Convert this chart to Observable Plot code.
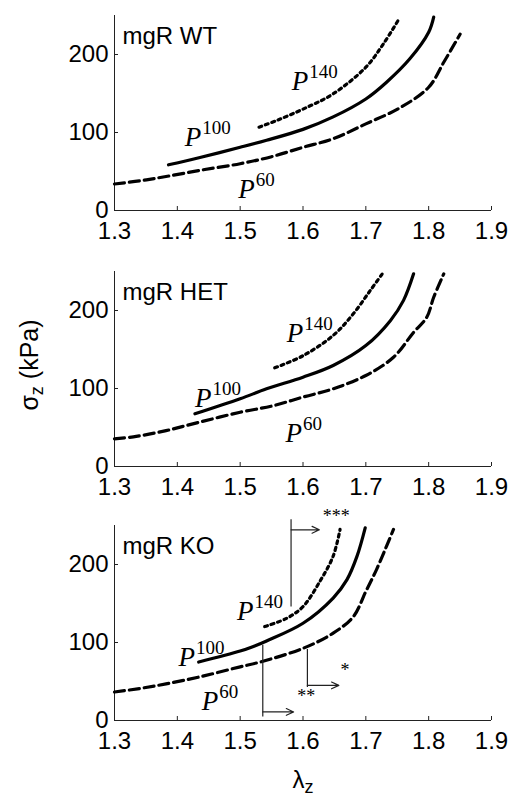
<!DOCTYPE html>
<html><head><meta charset="utf-8">
<script src="https://cdn.jsdelivr.net/npm/d3@7"></script>
<script src="https://cdn.jsdelivr.net/npm/@observablehq/plot@0.6"></script>
<style>
body{margin:0;background:#fff;}
#chart{position:relative;width:511px;height:798px;overflow:hidden;background:#fff;}
</style></head><body><div id="chart"></div>
<script>
// ---- tick labels / categories ----
const xTicks = [1.3, 1.4, 1.5, 1.6, 1.7, 1.8, 1.9];
const yTicks = [0, 100, 200];
const panelTitles = ["mgR WT", "mgR HET", "mgR KO"];
const curveLabels = ["P^140", "P^100", "P^60"];

// ---- WT ----
const wtP60x  = [1.30, 1.34, 1.382, 1.44, 1.50, 1.55, 1.60, 1.648, 1.70, 1.755, 1.80, 1.824, 1.85];
const wtP60y  = [34, 38, 43.6, 52, 60, 69, 81, 92, 111, 132, 158, 190, 226];
const wtP100x = [1.386, 1.436, 1.50, 1.542, 1.60, 1.648, 1.70, 1.733, 1.77, 1.80, 1.808];
const wtP100y = [58.6, 68, 81, 90, 104, 120, 143, 164.5, 194.5, 228.6, 248];
const wtP140x = [1.53, 1.56, 1.60, 1.648, 1.70, 1.728, 1.752];
const wtP140y = [106.8, 116, 130, 149.6, 183.7, 213.7, 244.5];
const wtLabelX = [1.582, 1.412, 1.497];
const wtLabelY = [154, 83, 16];

// ---- HET ----
const hetP60x  = [1.30, 1.33, 1.382, 1.436, 1.50, 1.553, 1.60, 1.648, 1.70, 1.744, 1.776, 1.797, 1.808, 1.824];
const hetP60y  = [35.5, 38, 46, 57, 69.6, 78, 89, 99.6, 116.7, 140, 172, 191.4, 217, 247];
const hetP100x = [1.428, 1.50, 1.542, 1.60, 1.648, 1.70, 1.739, 1.76, 1.776];
const hetP100y = [67.5, 86.8, 99.6, 114.5, 129.5, 155, 187, 213, 247];
const hetP140x = [1.555, 1.60, 1.648, 1.68, 1.707, 1.728];
const hetP140y = [126.5, 142, 168, 195.7, 225.6, 249];
const hetLabelX = [1.574, 1.428, 1.572];
const hetLabelY = [159, 76, 31];

// ---- KO ----
const koP60x  = [1.30, 1.34, 1.382, 1.436, 1.50, 1.532, 1.60, 1.648, 1.68, 1.70, 1.717, 1.733, 1.744];
const koP60y  = [36.5, 41, 47, 56, 68.8, 75, 92.5, 112, 133, 165.5, 193.5, 223.6, 245];
const koP100x = [1.434, 1.50, 1.52, 1.542, 1.60, 1.648, 1.67, 1.686, 1.699];
const koP100y = [75, 89, 94.6, 102, 124.7, 157, 180.6, 210.7, 247];
const koP140x = [1.539, 1.574, 1.60, 1.627, 1.648, 1.659];
const koP140y = [120.4, 131, 146, 178.5, 210.7, 245];
const koLabelX = [1.495, 1.402, 1.439];
const koLabelY = [129, 70, 13];

// ---- KO significance annotations ----
const sigLineX  = [1.536, 1.607, 1.581];   // vertical marker positions
const sigLineY1 = [97, 91.6, 146];         // start (on curve)
const sigLineY2 = [5, 43, 258];            // end
const sigArrowY = [11, 45, 244.5];
const sigArrowX2 = [1.585, 1.657, 1.626];
const sigText  = ["**", "*", "***"];
const sigTextX = [1.605, 1.667, 1.653];
const sigTextY = [31, 64.5, 262];

const zip = (xs, ys) => xs.map((x, i) => ({x, y: ys[i]}));

function panel({title, p60, p100, p140, labels, top, height, marginBottom, extra = []}) {
  const lbl = curveLabels.map((t, i) => ({t, x: labels[0][i], y: labels[1][i]}));
  const svg = Plot.plot({
    width: 511, height,
    marginLeft: 114, marginRight: 20, marginTop: 15, marginBottom,
    x: {domain: [1.3, 1.9]},
    y: {domain: [0, 250]},
    style: {fontFamily: "'Liberation Sans', Arial, sans-serif", fontSize: "24px", color: "#000", background: "transparent", overflow: "visible"},
    marks: [
      Plot.axisX({ticks: xTicks, tickSize: -4, tickPadding: 15, label: null, tickFormat: d => d.toFixed(1), fontSize: 24, stroke: "#222"}),
      Plot.axisY({ticks: yTicks, tickSize: -4, tickPadding: 10, label: null, fontSize: 24, stroke: "#222"}),
      Plot.ruleY([0], {stroke: "#222", strokeWidth: 1}),
      Plot.ruleX([1.3], {stroke: "#222", strokeWidth: 1}),
      Plot.line(zip(...p60), {x: "x", y: "y", stroke: "#000", strokeWidth: 3.2, strokeDasharray: "10,5", curve: "catmull-rom"}),
      Plot.line(zip(...p100), {x: "x", y: "y", stroke: "#000", strokeWidth: 3.2, curve: "catmull-rom"}),
      Plot.line(zip(...p140), {x: "x", y: "y", stroke: "#000", strokeWidth: 3.2, strokeDasharray: "3,3.8", curve: "catmull-rom"}),
      Plot.text(lbl, {x: "x", y: "y", text: "t", textAnchor: "start", lineAnchor: "bottom", fontFamily: "'Liberation Serif', 'Times New Roman', serif", fontSize: 27, fill: "#000"}),
      Plot.text([title], {frameAnchor: "top-left", dx: 8, dy: 28, lineAnchor: "bottom", textAnchor: "start", fontSize: 24, fill: "#000"}),
      ...extra
    ]
  });
  svg.style.position = "absolute";
  svg.style.left = "0px";
  svg.style.top = top + "px";
  return svg;
}

const chart = document.getElementById("chart");

chart.appendChild(panel({
  title: panelTitles[0], p60: [wtP60x, wtP60y], p100: [wtP100x, wtP100y], p140: [wtP140x, wtP140y],
  labels: [wtLabelX, wtLabelY], top: 0, height: 255, marginBottom: 45
}));

chart.appendChild(panel({
  title: panelTitles[1], p60: [hetP60x, hetP60y], p100: [hetP100x, hetP100y], p140: [hetP140x, hetP140y],
  labels: [hetLabelX, hetLabelY], top: 256, height: 255, marginBottom: 45,
  extra: [Plot.text(["σ_z (kPa)"], {frameAnchor: "left", dx: -85, dy: -4, rotate: -90, textAnchor: "middle", fontSize: 25, fill: "#000"})]
}));

const sig = sigLineX.map((x, i) => ({x, y1: sigLineY1[i], y2: sigLineY2[i], ya: sigArrowY[i], x2: sigArrowX2[i]}));
const sigT = sigText.map((t, i) => ({t, x: sigTextX[i], y: sigTextY[i]}));

chart.appendChild(panel({
  title: panelTitles[2], p60: [koP60x, koP60y], p100: [koP100x, koP100y], p140: [koP140x, koP140y],
  labels: [koLabelX, koLabelY], top: 510, height: 288, marginBottom: 78,
  extra: [
    Plot.link(sig, {x1: "x", x2: "x", y1: "y1", y2: "y2", stroke: "#222", strokeWidth: 1.2}),
    Plot.arrow(sig, {x1: "x", x2: "x2", y1: "ya", y2: "ya", stroke: "#222", strokeWidth: 1.2, headLength: 10, headAngle: 50}),
    Plot.text(sigT, {x: "x", y: "y", text: "t", fontFamily: "'Liberation Serif', 'Times New Roman', serif", fontSize: 18, fill: "#000"}),
    Plot.text(["λ_z"], {frameAnchor: "bottom", dy: 67, textAnchor: "middle", lineAnchor: "bottom", fontSize: 24, fill: "#000"})
  ]
}));

// rich text: superscripts (^) and subscripts (_)
d3.select(chart).selectAll("svg text").each(function() {
  const el = d3.select(this);
  if (this.querySelector("tspan")) return;
  const s = this.textContent;
  let m;
  if ((m = s.match(/^P\^(\d+)$/))) {
    el.text(null);
    el.append("tspan").attr("font-style", "italic").text("P");
    el.append("tspan").attr("font-size", 19).attr("dy", -12).attr("dx", 1).text(m[1]);
  } else if ((m = s.match(/^(.*)_(\w)(.*)$/))) {
    el.text(null);
    el.append("tspan").text(m[1]);
    el.append("tspan").attr("font-size", 18).attr("dy", 5).text(m[2]);
    if (m[3]) el.append("tspan").attr("dy", -5).text(m[3]);
  }
});
</script></body></html>
